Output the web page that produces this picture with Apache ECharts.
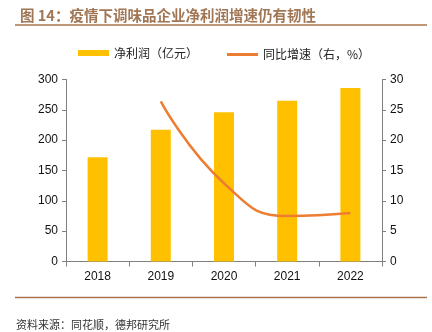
<!DOCTYPE html>
<html>
<head>
<meta charset="utf-8">
<script src="https://cdn.jsdelivr.net/npm/echarts@6/dist/echarts.min.js"></script>
<style>
  html, body { margin: 0; padding: 0; background: #fff; }
  #chart { width: 432px; height: 332px; }
</style>
</head>
<body>
<div id="chart"></div>
<script>
// 年份
const years = ['2018', '2019', '2020', '2021', '2022'];
// 净利润（亿元）
const netProfit = [172, 217, 246, 265, 286];
// 同比增速（%），2018 年无数据
const yoyGrowth = [null, 26.4, 12.9, 7.5, 8.0];

const barName = '净利润（亿元）';
const lineName = '同比增速（右，%）';
const brown = '#a9744c';
const axisColor = '#808080';
const numFont = 'Liberation Sans, Arial, sans-serif';
const cjkFont = '"Noto Sans CJK SC", sans-serif';
const legendText = { fontFamily: cjkFont, fontSize: 12, color: '#222' };

const chart = echarts.init(document.getElementById('chart'), null, { renderer: 'canvas' });

chart.setOption({
  animation: false,
  backgroundColor: '#fff',
  title: {
    text: '图 14：疫情下调味品企业净利润增速仍有韧性',
    left: 15,
    top: 3,
    textStyle: { fontFamily: cjkFont, fontSize: 14.5, fontWeight: 'bold', color: '#a07654' }
  },
  graphic: [
    { type: 'line', shape: { x1: 15, y1: 25, x2: 427, y2: 25 }, style: { stroke: brown, lineWidth: 1.5 } },
    { type: 'line', shape: { x1: 15, y1: 297.5, x2: 427, y2: 297.5 }, style: { stroke: brown, lineWidth: 1.5 } },
    {
      type: 'text', left: 16, top: 319,
      style: { text: '资料来源：同花顺，德邦研究所', font: '11px "Noto Sans CJK SC", sans-serif', fill: '#333' }
    }
  ],
  legend: [
    {
      top: 42, left: 73,
      itemWidth: 31, itemHeight: 6,
      textStyle: legendText,
      data: [{ name: barName, icon: 'rect' }]
    },
    {
      top: 43.5, left: 222,
      itemWidth: 31, itemHeight: 3,
      textStyle: legendText,
      data: [{ name: lineName, icon: 'rect' }]
    }
  ],
  grid: { left: 66, right: 50, top: 79.5, bottom: 70.5 },
  xAxis: {
    type: 'category',
    data: years,
    axisLine: { lineStyle: { color: axisColor, width: 1 } },
    axisTick: { show: true, length: 5, lineStyle: { color: axisColor } },
    axisLabel: { color: '#111', fontFamily: numFont, fontSize: 12, margin: 9 }
  },
  yAxis: [
    {
      type: 'value', min: 0, max: 300, interval: 50,
      splitLine: { show: false },
      axisLine: { show: true, lineStyle: { color: axisColor } },
      axisTick: { show: true, length: 4, lineStyle: { color: axisColor } },
      axisLabel: { color: '#111', fontFamily: numFont, fontSize: 12, margin: 8 }
    },
    {
      type: 'value', min: 0, max: 30, interval: 5,
      position: 'right',
      splitLine: { show: false },
      axisLine: { show: true, lineStyle: { color: axisColor } },
      axisTick: { show: true, length: 4, lineStyle: { color: axisColor } },
      axisLabel: { color: '#111', fontFamily: numFont, fontSize: 12, margin: 8 }
    }
  ],
  series: [
    {
      name: barName,
      type: 'bar',
      data: netProfit,
      barWidth: 20,
      itemStyle: { color: '#FFC000' }
    },
    {
      name: lineName,
      type: 'line',
      yAxisIndex: 1,
      data: yoyGrowth,
      smooth: 0.5,
      symbol: 'none',
      lineStyle: { color: '#ED7D31', width: 2.5 },
      itemStyle: { color: '#ED7D31' }
    }
  ]
});
</script>
</body>
</html>
